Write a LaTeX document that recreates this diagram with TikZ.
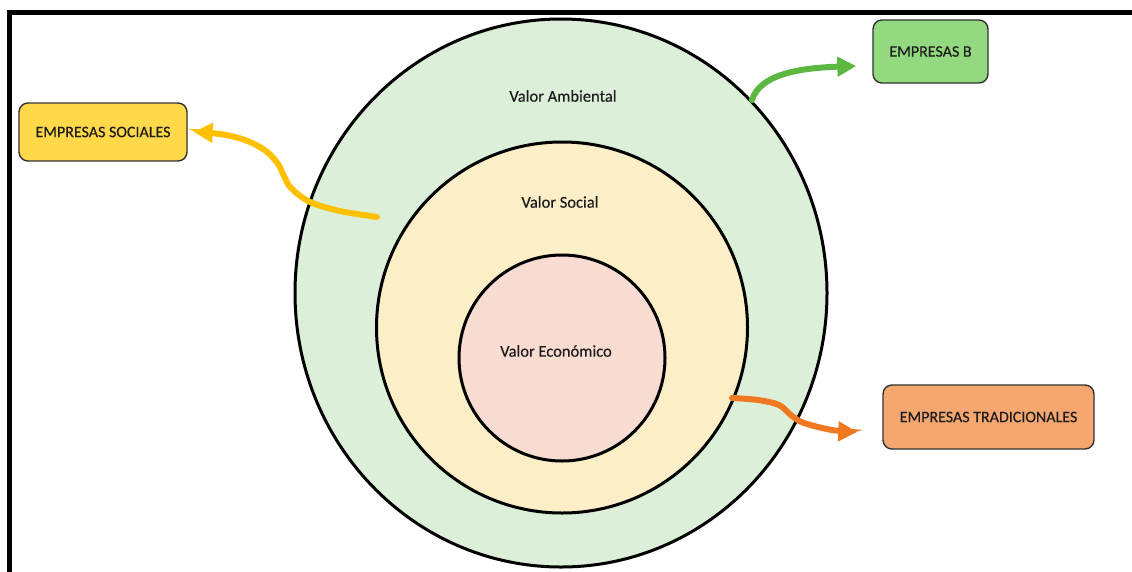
\documentclass[tikz,border=0pt]{standalone}
\usepackage{fontspec}
\setmainfont{Carlito}
\newfontfamily\labelfont[FakeBold=0.35]{Carlito}
\usetikzlibrary{arrows.meta}

\definecolor{ringA}{HTML}{DCEFD8}
\definecolor{ringS}{HTML}{FCEFC7}
\definecolor{ringE}{HTML}{F8DCD2}
\definecolor{boxSoc}{HTML}{FFD94A}
\definecolor{boxB}{HTML}{93D97F}
\definecolor{boxTrad}{HTML}{F6A66F}
\definecolor{arrSoc}{HTML}{FFC000}
\definecolor{arrB}{HTML}{5CB840}
\definecolor{arrTrad}{HTML}{F07820}
\definecolor{ink}{HTML}{1C1C1C}

\tikzset{
  ring/.style={draw=black, line width=3pt},
  ringlabel/.style={font=\labelfont\fontsize{16.5}{19}\selectfont, text=ink},
  firmbox/.style={draw=ink!90, line width=1.4pt, rounded corners=9pt,
    inner sep=0pt, font=\labelfont\fontsize{16}{19}\selectfont, text=ink},
  flow/.style={line width=6pt, line cap=round,
    -{Triangle[length=19pt,width=19pt]}},
}

\begin{document}
\begin{tikzpicture}[x=1pt, y=-1pt]
  \useasboundingbox (0,0) rectangle (1132,571);
  \clip (0,0) rectangle (1132,571);
  \fill[white] (0,0) rectangle (1132,571);

  % outer frame, open to the right and bottom
  \draw[line width=5pt] (9.5,1200) -- (9.5,12.5) -- (1200,12.5);

  % three nested value rings
  \draw[ring, fill=ringA] (561,293) ellipse [x radius=266, y radius=274];
  \draw[ring, fill=ringS] (562,327.5) circle [radius=185.5];
  \draw[ring, fill=ringE] (562,358) circle [radius=103];

  \node[ringlabel] (amb) at (563,96) {Valor Ambiental};
  \node[ringlabel] (soc) at (560,202) {Valor Social};
  \node[ringlabel] (eco) at (556,351) {Valor Económico};

  % company types
  \node[firmbox, fill=boxSoc, minimum width=168pt, minimum height=58pt]
    (esoc) at (103,132) {EMPRESAS SOCIALES};
  \node[firmbox, fill=boxB, minimum width=115pt, minimum height=63pt]
    (eb) at (930.5,51.5) {EMPRESAS B};
  \node[firmbox, fill=boxTrad, minimum width=211pt, minimum height=64pt]
    (etrad) at (988.5,417) {EMPRESAS TRADICIONALES};

  % arrow start and end points
  \coordinate (socstart) at (377,217);
  \coordinate (socend) at ([xshift=6pt]esoc.east);
  \coordinate (bstart) at (752,100);
  \coordinate (bend) at ([xshift=-16pt,yshift=-14.5pt]eb.west);
  \coordinate (tradstart) at (732,398);
  \coordinate (tradend) at ([xshift=-25pt,yshift=-15pt]etrad.west);

  % flows towards each company type
  \draw[flow, draw=arrSoc] plot[smooth, tension=0.55] coordinates
    {(socstart) (340,211) (310,202) (291,188) (284,176) (278,164) (266,151) (245,140) (220,134) (socend)};
  \draw[flow, draw=arrB] (bstart) .. controls (760,74) and (800,68) .. (bend);
  \draw[flow, draw=arrTrad] plot[smooth, tension=0.55] coordinates
    {(tradstart) (758,400) (779,405) (792,416) (804,423) (832,430) (tradend)};
\end{tikzpicture}
\end{document}
